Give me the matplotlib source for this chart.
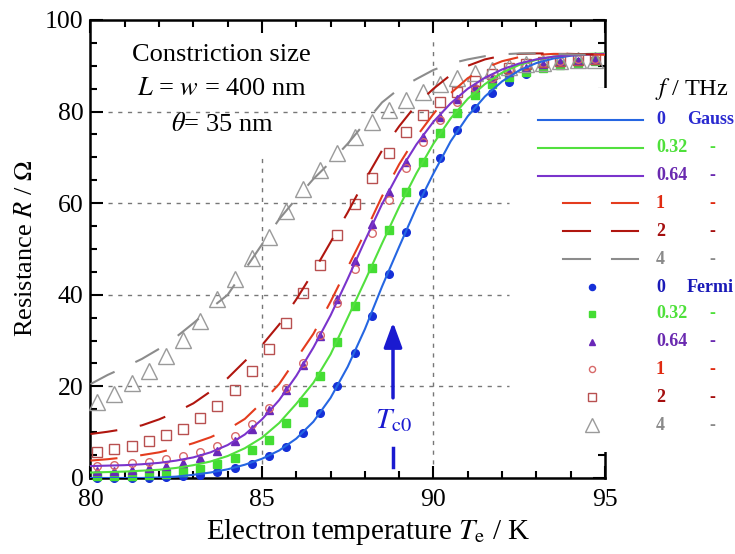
import matplotlib
matplotlib.use("Agg")
import matplotlib.pyplot as plt
from matplotlib.lines import Line2D
from matplotlib.patches import Rectangle
from matplotlib.ticker import MultipleLocator

plt.rcParams["font.family"] = ["Liberation Serif", "DejaVu Serif"]
plt.rcParams["mathtext.fontset"] = "stix"

# ── Data ─────────────────────────────────────────────────────────────────────
# Gauss model curves (lines), T in K
t_gauss = [80.0, 80.5, 81.0, 81.5, 82.0, 82.5, 83.0, 83.5, 84.0, 84.5, 85.0,
           85.5, 86.0, 86.5, 87.0, 87.5, 88.0, 88.5, 89.0, 89.5, 90.0, 90.5,
           91.0, 91.5, 92.0, 92.5, 93.0, 93.5, 94.0, 94.5, 95.0]
r_gauss_0 = [0.0, 0.0, 0.0, 0.0, 0.1, 0.3, 0.7, 1.2, 1.9, 2.9, 4.2, 6.0, 8.6,
             12.3, 17.5, 24.3, 32.5, 41.8, 50.5, 59.0, 66.5, 73.5, 79.0, 83.3,
             86.6, 89.0, 90.6, 91.6, 92.2, 92.5, 92.6]
r_gauss_032 = [1.2, 1.3, 1.4, 1.6, 1.8, 2.2, 2.8, 3.6, 4.8, 6.5, 8.8, 12.0,
               16.2, 20.8, 27.0, 35.0, 43.0, 51.2, 59.2, 66.5, 73.0, 78.5,
               82.8, 86.0, 88.5, 90.2, 91.3, 92.0, 92.4, 92.6, 92.7]
r_gauss_064 = [2.6, 2.7, 2.8, 3.0, 3.3, 3.8, 4.5, 5.6, 7.2, 9.5, 12.8, 17.0,
               22.3, 28.5, 35.5, 43.5, 51.8, 59.8, 66.8, 72.8, 77.8, 81.8,
               85.0, 87.4, 89.2, 90.5, 91.4, 92.0, 92.3, 92.5, 92.6]
r_gauss_1 = [3.8, 4.1, 4.5, 5.0, 5.6, 6.5, 7.6, 8.9, 10.6, 12.9, 16.5, 20.5,
             26.0, 31.5, 38.5, 46.0, 53.5, 61.5, 68.5, 74.5, 79.5, 84.0, 87.3,
             89.5, 91.0, 91.9, 92.4, 92.6, 92.6, 92.5, 92.4]
r_gauss_2 = [9.6, 10.1, 10.7, 11.5, 12.8, 14.4, 16.3, 18.9, 21.8, 25.5, 29.0,
             33.5, 39.0, 45.0, 51.5, 58.0, 65.0, 71.5, 76.8, 81.5, 85.0, 88.0,
             90.0, 91.4, 92.2, 92.6, 92.7, 92.7, 92.6, 92.5, 92.4]
r_gauss_4 = [20.5, 22.5, 24.2, 26.0, 28.2, 30.8, 33.8, 37.0, 40.0, 45.5, 51.0,
             56.5, 61.0, 65.3, 69.0, 73.0, 77.5, 82.0, 85.0, 87.1, 89.1, 90.5,
             91.4, 92.1, 92.5, 92.7, 92.7, 92.6, 92.5, 92.4, 92.3]

# Fermi model points (markers)
t_fermi = [80.2, 80.7, 81.2, 81.7, 82.2, 82.7, 83.2, 83.7, 84.2, 84.7, 85.2,
           85.7, 86.2, 86.7, 87.2, 87.7, 88.2, 88.7, 89.2, 89.7, 90.2, 90.7,
           91.2, 91.7, 92.2, 92.7, 93.2, 93.7, 94.2, 94.7]
r_fermi_0 = [0.0, 0.0, 0.0, 0.1, 0.2, 0.4, 0.6, 1.2, 2.1, 3.1, 4.8, 6.8, 9.9,
             14.1, 20.0, 27.2, 35.3, 44.6, 53.8, 62.3, 69.8, 76.0, 80.7, 84.1,
             86.5, 88.2, 89.5, 90.3, 90.9, 91.3]
r_fermi_032 = [0.4, 0.4, 0.5, 0.6, 0.9, 1.3, 2.0, 3.1, 4.3, 6.1, 8.3, 11.9,
               16.7, 22.3, 29.6, 37.5, 45.8, 54.1, 62.5, 69.1, 75.3, 79.8,
               83.6, 86.0, 87.6, 88.7, 89.5, 90.2, 90.7, 91.0]
r_fermi_064 = [1.5, 1.6, 1.8, 2.1, 2.6, 3.3, 4.3, 5.8, 8.0, 10.8, 14.8, 19.2,
               24.7, 31.0, 39.0, 47.3, 55.4, 62.5, 69.1, 74.5, 78.9, 82.8,
               85.4, 87.4, 88.7, 89.6, 90.3, 90.8, 91.1, 91.3]
r_fermi_1 = [2.6, 2.8, 3.2, 3.5, 4.1, 4.8, 5.6, 7.0, 9.2, 11.7, 15.2, 19.6,
             25.2, 31.3, 38.1, 45.7, 53.6, 60.8, 67.6, 73.4, 78.2, 82.2, 85.2,
             87.4, 89.0, 90.0, 90.7, 91.1, 91.4, 91.5]
r_fermi_2 = [5.7, 6.3, 7.0, 8.1, 9.4, 10.8, 13.0, 15.7, 19.2, 23.4, 28.1, 33.8,
             40.3, 46.6, 53.1, 59.8, 65.4, 70.9, 75.6, 79.3, 82.2, 84.3, 86.6,
             88.3, 89.5, 90.3, 90.8, 91.1, 91.3, 91.4]
r_fermi_4 = [16.6, 18.3, 20.7, 23.3, 26.6, 30.1, 34.2, 39.0, 43.4, 48.1, 52.6,
             58.4, 63.1, 67.2, 70.9, 74.5, 77.8, 80.3, 82.5, 84.3, 86.0, 87.4,
             88.4, 89.1, 89.8, 90.3, 90.7, 91.0, 91.2, 91.3]

freq_labels = ["0", "0.32", "0.64", "1", "2", "4"]
gauss_series = [r_gauss_0, r_gauss_032, r_gauss_064, r_gauss_1, r_gauss_2, r_gauss_4]
fermi_series = [r_fermi_0, r_fermi_032, r_fermi_064, r_fermi_1, r_fermi_2, r_fermi_4]

t_c0 = 88.82

# ── Styles ───────────────────────────────────────────────────────────────────
line_colors = ["#2566e2", "#52e03e", "#7a34cc", "#e43c1e", "#b0160f", "#8c8c8c"]
line_dashed = [False, False, False, True, True, True]
mk_styles = [
    dict(marker="o", ms=5.5, mfc="#1530d8", mec="#1530d8"),
    dict(marker="s", ms=5.5, mfc="#44dd33", mec="#44dd33"),
    dict(marker="^", ms=5.5, mfc="#6a28b8", mec="#6a28b8"),
    dict(marker="o", ms=5.5, mfc="none", mec="#d86a6a", mew=1.0),
    dict(marker="s", ms=6.5, mfc="none", mec="#b85050", mew=1.0),
    dict(marker="^", ms=11, mfc="none", mec="#9a9a9a", mew=1.0),
]
text_colors = ["#2a2ad0", "#4ee03a", "#6a2ab0", "#e02a10", "#a50f0f", "#8a8a8a"]
C_ARROW = "#1a1ad0"

fig = plt.figure(figsize=(7.35, 5.54), dpi=100)
ax = fig.add_axes([0.1231, 0.1372, 0.7, 0.8267])

# grid (partial, as in the original)
for r in [20, 40, 60, 80]:
    ax.plot([80.5, 92.2], [r, r], color="#777777", lw=1.0, dashes=(3, 4), zorder=1)
ax.plot([85, 85], [3, 71], color="#777777", lw=1.0, dashes=(3, 4), zorder=1)
ax.plot([90, 90], [3, 96], color="#777777", lw=1.0, dashes=(3, 4), zorder=1)

for r, st in zip(fermi_series, mk_styles):
    ax.plot(t_fermi, r, ls="none", zorder=3, clip_on=False, **st)

for r, c, dashed in zip(gauss_series, line_colors, line_dashed):
    if dashed:
        ax.plot(t_gauss, r, color=c, lw=1.5, dashes=(13, 11), zorder=4)
    else:
        ax.plot(t_gauss, r, color=c, lw=1.5, zorder=4)

ax.set_xlim(80, 95)
ax.set_ylim(0, 100)
ax.xaxis.set_major_locator(MultipleLocator(5))
ax.xaxis.set_minor_locator(MultipleLocator(1))
ax.yaxis.set_major_locator(MultipleLocator(20))
ax.yaxis.set_minor_locator(MultipleLocator(5))
ax.tick_params(which="both", direction="in", top=True, right=True,
               labelsize=18.5, width=1.5)
ax.tick_params(axis="x", pad=8)
ax.tick_params(axis="y", pad=5)
ax.tick_params(which="major", length=9)
ax.tick_params(which="minor", length=5)
for s in ax.spines.values():
    s.set_linewidth(1.8)

ax.set_xlabel(r"Electron temperature $T_{\rm e}$ / K", fontsize=21)
ax.xaxis.set_label_coords(0.54, -0.085)
ax.set_ylabel(r"Resistance $R$ / $\Omega$", fontsize=19, labelpad=6)

# annotation text
ax.text(83.83, 92.4, "Constriction size", fontsize=19, ha="center", va="center")
ax.text(83.83, 85.0, r"$L$ = $w$ = 400 nm", fontsize=19, ha="center", va="center")
ax.text(83.83, 77.1, r"$\theta$= 35 nm", fontsize=19, ha="center", va="center")

# T_c0 arrow
ax.annotate("", xy=(t_c0, 34.0), xytext=(t_c0, 17.5),
            arrowprops=dict(arrowstyle="-|>,head_length=1.5,head_width=0.55",
                            color=C_ARROW, lw=2.5, shrinkA=0, shrinkB=0),
            zorder=5)
ax.text(t_c0, 12.5, r"$T_{\rm c0}$", fontsize=21, color=C_ARROW,
        ha="center", va="center")
ax.plot([t_c0, t_c0], [2.4, 6.5], color=C_ARROW, lw=2.5, zorder=5)

# ── Legend (drawn in pixel coordinates over the right side) ──────────────────
lg = fig.add_axes([0, 0, 1, 1], zorder=10)
lg.set_xlim(0, 735)
lg.set_ylim(554, 0)
lg.axis("off")
lg.patch.set_alpha(0)
lg.add_patch(Rectangle((530, 88), 205, 364, facecolor="white", edgecolor="none"))

lg.text(655, 89, r"$f$ / THz", fontsize=17.5, ha="left", va="center")

rows_g = [120, 148, 176, 203, 231, 259]
rows_f = [287, 314, 342, 369, 397, 425]
for i in range(6):
    y = rows_g[i]
    if line_dashed[i]:
        lg.add_line(Line2D([563, 590], [y, y], color=line_colors[i], lw=1.5))
        lg.add_line(Line2D([612, 638], [y, y], color=line_colors[i], lw=1.5))
    else:
        lg.add_line(Line2D([538, 643], [y, y], color=line_colors[i], lw=1.5))
    lg.text(656, y, freq_labels[i], fontsize=13, fontweight="bold",
            color=text_colors[i], ha="left", va="center")
    if i == 0:
        lg.text(687, y, "Gauss", fontsize=13, fontweight="bold",
                color=text_colors[i], ha="left", va="center")
    else:
        lg.text(712, y, "-", fontsize=13, fontweight="bold",
                color=text_colors[i], ha="center", va="center")

    y = rows_f[i]
    st = dict(mk_styles[i])
    if i == 5:
        st["ms"] = 10
    else:
        st["ms"] = st["ms"] * 0.8
    lg.add_line(Line2D([592], [y], ls="none", **st))
    fcol = "#1a1ab8" if i == 0 else text_colors[i]
    lg.text(656, y, freq_labels[i], fontsize=13, fontweight="bold",
            color=fcol, ha="left", va="center")
    if i == 0:
        lg.text(687, y, "Fermi", fontsize=13, fontweight="bold",
                color=fcol, ha="left", va="center")
    else:
        lg.text(712, y, "-", fontsize=13, fontweight="bold",
                color=fcol, ha="center", va="center")

fig.savefig("out.png", dpi=100, facecolor="white")
